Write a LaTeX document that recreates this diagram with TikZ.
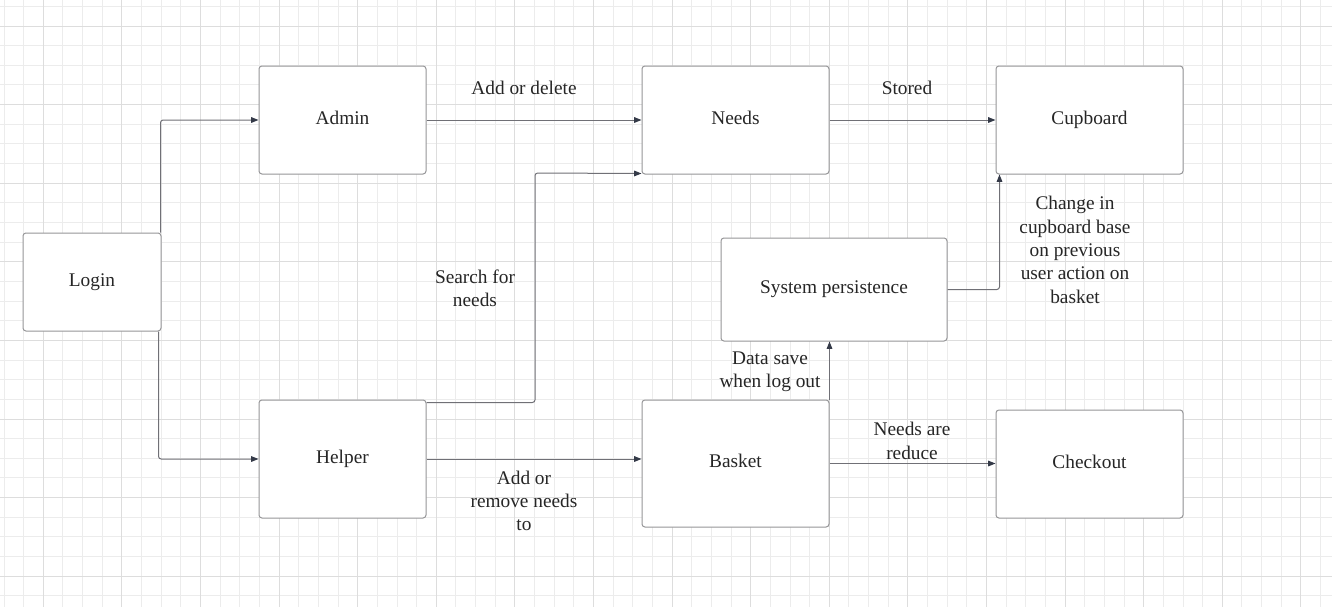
\documentclass[tikz,border=0pt]{standalone}
\usepackage{fontspec}
\setmainfont{Liberation Serif}
\usetikzlibrary{arrows.meta,calc}
\definecolor{gridminor}{RGB}{236,236,236}
\definecolor{gridmajor}{RGB}{221,221,221}
\definecolor{boxline}{RGB}{150,150,152}
\definecolor{connline}{RGB}{112,112,118}
\definecolor{tipcol}{RGB}{52,58,72}
\definecolor{txt}{RGB}{38,38,38}
\tikzset{
  box/.style 2 args={draw=boxline, line width=0.75pt, fill=white, rounded corners=2.2pt,
    minimum width=#1*0.75pt, minimum height=#2*0.75pt, inner sep=0pt,
    text height=10pt, text depth=4pt,
    text=txt, font=\fontsize{14.5}{17.5}\selectfont},
  conn/.style={draw=connline, line width=0.75pt, rounded corners=2pt,
    -{Triangle[length=5.5pt,width=4.2pt,color=tipcol]}},
  lbl/.style={text=txt, align=center, inner sep=0pt, font=\fontsize{14.5}{17.5}\selectfont},
}
\begin{document}
\begin{tikzpicture}[x=0.75pt,y=-0.75pt]
\useasboundingbox (0,0) rectangle (1332,607);
\fill[white] (0,0) rectangle (1332,607);
% grid
\foreach \i in {0,...,67} \draw[gridminor, line width=0.75pt] ({4.0+19.65*\i},0) -- ({4.0+19.65*\i},607);
\foreach \i in {0,...,30} \draw[gridminor, line width=0.75pt] (0,{6.35+19.65*\i}) -- (1332,{6.35+19.65*\i});
\foreach \i in {0,...,16} \draw[gridmajor, line width=0.75pt] ({43.3+78.6*\i},0) -- ({43.3+78.6*\i},607);
\foreach \i in {0,...,7} \draw[gridmajor, line width=0.75pt] (0,{26+78.6*\i}) -- (1332,{26+78.6*\i});
% nodes
\node[box={138}{98}] (login) at (92,282) {Login};
\node[box={167}{108}] (admin) at (342.5,120) {Admin};
\node[box={167}{118}] (helper) at (342.5,459) {Helper};
\node[box={187}{108}] (needs) at (735.5,120) {Needs};
\node[box={187}{108}] (cupboard) at (1089.5,120) {Cupboard};
\node[box={226}{103}] (sysp) at (834,289.5) {System persistence};
\node[box={187}{127}] (basket) at (735.5,463.5) {Basket};
\node[box={187}{108}] (checkout) at (1089.5,464) {Checkout};
% connectors
\draw[conn] ([xshift=-0.75pt]login.north east) |- (admin.west);
\draw[conn] ([xshift=-2.25pt]login.south east) |- (helper.west);
\draw[conn] (admin.east) -- (needs.west);
\draw[conn] (needs.east) -- (cupboard.west);
\draw[conn] ([yshift=-2.25pt]helper.north east) -| (535,173) -- ([yshift=0.75pt]needs.south west);
\draw[conn] (helper.east) -- (helper.east -| basket.west);
\draw[conn] (basket.north east) -- (basket.north east |- sysp.south);
\draw[conn] (sysp.east) -| ([xshift=3pt]cupboard.south west);
\draw[conn] (basket.east) -- (basket.east -| checkout.west);
% labels
\node[lbl] (l1) at (524,88) {Add or delete};
\node[lbl] (l2) at (907,88) {Stored};
\node[lbl] (l3) at (475,288) {Search for\\needs};
\node[lbl] (l4) at (524,501) {Add or\\remove needs\\to};
\node[lbl] (l5) at (770,372) {Data save\\when log out};
\node[lbl] (l6) at (1075,250) {Change in\\cupboard base\\on previous\\user action on\\basket};
\node[lbl] (l7) at (912,441) {Needs are\\reduce};
\end{tikzpicture}
\end{document}
